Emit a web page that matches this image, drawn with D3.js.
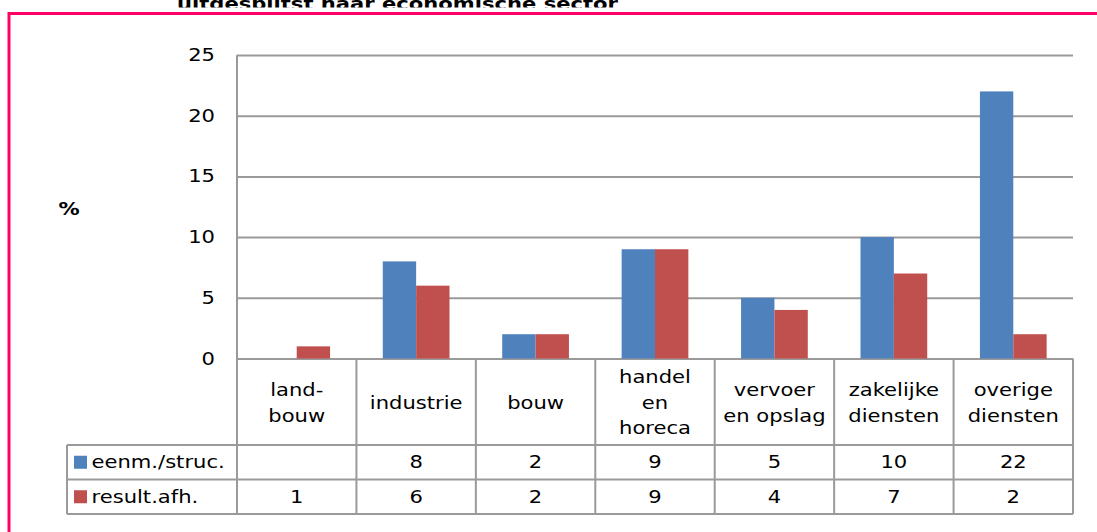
<!DOCTYPE html>
<html>
<head>
<meta charset="utf-8">
<script src="https://cdn.jsdelivr.net/npm/d3@7"></script>
<style>
  body { margin: 0; background: #fff; }
  svg { display: block; font-family: "DejaVu Sans", Verdana, sans-serif; }
</style>
</head>
<body>
<svg id="chart" width="1097" height="532"></svg>
<script>
// data
const categories = [["land-", "bouw"], ["industrie"], ["bouw"], ["handel", "en", "horeca"],
                    ["vervoer", "en opslag"], ["zakelijke", "diensten"], ["overige", "diensten"]];
const seriesNames = ["eenm./struc.", "result.afh."];
const eenmStruc = [null, 8, 2, 9, 5, 10, 22];
const resultAfh = [1, 6, 2, 9, 4, 7, 2];
const yTicks = [0, 5, 10, 15, 20, 25];
const colors = ["#4f81bd", "#c0504d"];

const drawChart = ()=>{
    let svg = d3.select("#chart");
    let sx = 1.14; // the original text is a bit stretched sideways
    let fs = 18.5;

    let margin = { left: 237, right: 24, top: 55 };
    let plotBottom = 358.5;
    let right = 1097 - margin.right;
    let headBottom = 445, row1Bottom = 479.5, row2Bottom = 514;
    let legendLeft = 67;

    const label = (x, y, str, anchor, weight)=>{
        svg.append("text")
        .attr("transform", "translate(" + x + "," + y + ") scale(" + sx + ",1)")
        .attr("text-anchor", anchor || "middle")
        .attr("dominant-baseline", "central")
        .attr("font-size", fs + "px")
        .attr("font-weight", weight || "normal")
        .attr("fill", "#000")
        .text(str);
    };

    // cut-off title, hidden under the chart frame below y=7.5
    svg.append("text")
    .attr("transform", "translate(177,10) scale(" + sx + ",1)")
    .attr("font-size", fs + "px")
    .attr("font-weight", "bold")
    .text("uitgesplitst naar economische sector");

    svg.append("rect")
    .attr("x", 0).attr("y", 7.5)
    .attr("width", 1097).attr("height", 10)
    .attr("fill", "#fff");

    svg.append("rect")
    .attr("x", 9).attr("y", 13.5)
    .attr("width", 2000).attr("height", 2000)
    .attr("fill", "none")
    .attr("stroke", "#ff0066")
    .attr("stroke-width", 3);

    let idx = d3.range(categories.length);
    let x0 = d3.scaleBand().domain(idx).range([margin.left, right]).paddingInner(0).paddingOuter(0);
    let x1 = d3.scaleBand().domain([0, 1]).range([0, x0.bandwidth()]).paddingInner(0).paddingOuter(0.79);
    let y = d3.scaleLinear().domain([0, 25]).range([plotBottom, margin.top]);

    // gridlines
    let yAxis = d3.axisLeft(y).tickValues(yTicks).tickSize(-(right - margin.left)).tickFormat("");
    let ga = svg.append("g")
    .attr("transform", "translate(" + margin.left + ",0)")
    .call(yAxis);
    ga.select(".domain").remove();
    ga.selectAll("line").attr("stroke", "#9a9a9a").attr("stroke-width", 2);

    yTicks.forEach((t)=>{
        label(215, y(t), t, "end");
    });

    label(69, 209, "%", "middle", "bold");

    // bars
    let series = [eenmStruc, resultAfh];
    series.forEach((vals, s)=>{
        svg.append("g")
        .selectAll("rect")
        .data(idx.filter((i)=>vals[i] != null))
        .enter()
        .append("rect")
        .attr("x", (i)=>x0(i) + x1(s))
        .attr("width", x1.bandwidth())
        .attr("y", (i)=>y(vals[i]))
        .attr("height", (i)=>y(0) - y(vals[i]))
        .attr("fill", colors[s]);
    });

    // data table
    let tbl = svg.append("g")
    .attr("stroke", "#9a9a9a")
    .attr("stroke-width", 2)
    .attr("fill", "none");

    const line = (xa, ya, xb, yb)=>{
        tbl.append("line").attr("x1", xa).attr("y1", ya).attr("x2", xb).attr("y2", yb);
    };

    line(margin.left, margin.top, margin.left, row2Bottom);
    idx.forEach((i)=>{
        line(x0(i) + x0.bandwidth(), plotBottom, x0(i) + x0.bandwidth(), row2Bottom);
    });
    line(margin.left, headBottom, right, headBottom);
    line(legendLeft, headBottom, margin.left, headBottom);
    line(legendLeft, row1Bottom, right, row1Bottom);
    line(legendLeft, row2Bottom, right, row2Bottom);
    line(legendLeft, headBottom, legendLeft, row2Bottom);

    // category headers
    let lh = 25.5;
    idx.forEach((i)=>{
        let lines = categories[i];
        let cx = x0(i) + x0.bandwidth() / 2;
        let cy = (plotBottom + headBottom) / 2 + 1;
        lines.forEach((str, k)=>{
            label(cx, cy + (k - (lines.length - 1) / 2) * lh, str);
        });
    });

    // rows
    let rowMid = [(headBottom + row1Bottom) / 2, (row1Bottom + row2Bottom) / 2];
    series.forEach((vals, s)=>{
        svg.append("rect")
        .attr("x", 74).attr("y", rowMid[s] - 6.5)
        .attr("width", 13).attr("height", 13)
        .attr("fill", colors[s]);
        label(91.5, rowMid[s], seriesNames[s], "start");
        idx.forEach((i)=>{
            if (vals[i] != null) {
                label(x0(i) + x0.bandwidth() / 2, rowMid[s], vals[i]);
            }
        });
    });
};

window.onload = function(){
    drawChart();
};
</script>
</body>
</html>
